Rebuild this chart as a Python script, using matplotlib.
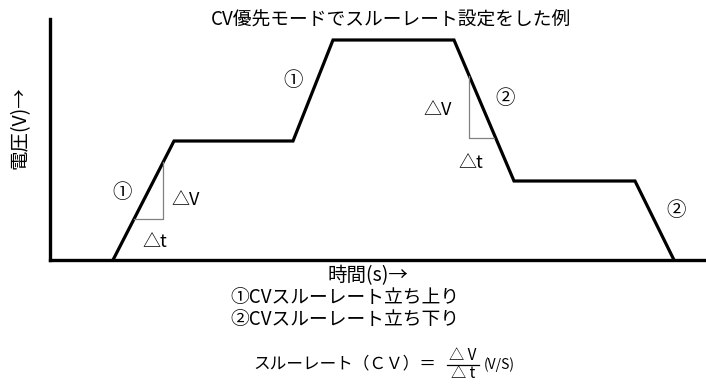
import matplotlib
matplotlib.use("Agg")
import matplotlib.pyplot as plt
from matplotlib.lines import Line2D

plt.rcParams['font.family'] = ['Noto Sans CJK JP', 'DejaVu Sans']

# Waveform data (time units, voltage units)
time = [6.3, 12.4, 24.3, 28.3, 40.4, 46.4, 58.5, 62.4]
voltage = [0, 11.9, 11.9, 22.0, 22.0, 7.9, 7.9, 0]

# Slope triangles
tri1_t = [8.4, 11.3, 11.3]
tri1_v = [4.1, 4.1, 9.8]
tri2_t = [41.9, 41.9, 44.4]
tri2_v = [18.4, 12.2, 12.2]

# Annotations: (text, t, v)
labels = ["①", "△V", "△t", "①", "②", "△V", "△t", "②"]
label_t = [7.2, 13.6, 10.5, 24.3, 45.5, 38.8, 42.1, 62.6]
label_v = [6.8, 6.0, 1.8, 18.0, 16.2, 15.0, 9.7, 5.0]

title = "CV優先モードでスルーレート設定をした例"
ylabel = "電圧(V)→"
xlabel = "時間(s)→"
legend1 = "①CVスルーレート立ち上り"
legend2 = "②CVスルーレート立ち下り"

W, H = 706, 387
fig = plt.figure(figsize=(W / 100, H / 100), dpi=100)
ax = fig.add_axes([50 / W, (H - 260) / H, (W - 50) / W, (260 - 19) / H])
ax.set_xlim(0, 65.6)
ax.set_ylim(0, 24.1)
for s in ['top', 'right']:
    ax.spines[s].set_visible(False)
for s in ['left', 'bottom']:
    ax.spines[s].set_linewidth(2.4)
    ax.spines[s].set_color('black')
ax.set_xticks([])
ax.set_yticks([])

ax.plot(time, voltage, color='black', lw=2.3, solid_joinstyle='miter', clip_on=False)
ax.plot(tri1_t, tri1_v, color='#808080', lw=0.9)
ax.plot(tri2_t, tri2_v, color='#808080', lw=0.9)

for s, t, v in zip(labels, label_t, label_v):
    fs = 14 if s in ("①", "②") else 13
    ax.text(t, v, s, ha='center', va='center', fontsize=fs)

def px(x, y):
    return x / W, 1 - y / H

fig.text(*px(391, 20), title, ha='center', va='center', fontsize=13.5)
fig.text(*px(20, 128), ylabel, ha='center', va='center', fontsize=14, rotation=90)
fig.text(*px(368, 276), xlabel, ha='center', va='center', fontsize=14)
fig.text(*px(345, 298), legend1, ha='center', va='center', fontsize=13.5)
fig.text(*px(345, 319), legend2, ha='center', va='center', fontsize=13.5)

# Formula
fig.text(*px(436, 364), "スルーレート（ＣＶ）＝", ha='right', va='center', fontsize=12)
fig.text(*px(463, 356), "△ V", ha='center', va='center', fontsize=11)
fig.text(*px(463, 374), "△ t", ha='center', va='center', fontsize=11)
fig.add_artist(Line2D([447 / W, 479 / W], [1 - 365 / H, 1 - 365 / H], color='black', lw=0.9))
fig.text(*px(484, 365), "(V/S)", ha='left', va='center', fontsize=10)

fig.savefig("out.png", dpi=100)
